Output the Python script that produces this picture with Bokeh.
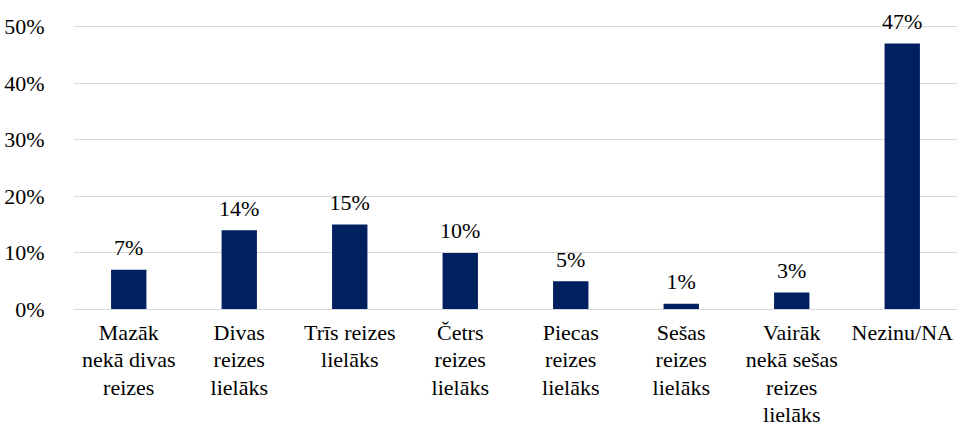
from bokeh.plotting import figure
from bokeh.models import ColumnDataSource, Range1d, FixedTicker, FactorRange
from bokeh.core.properties import value
from bokeh.embed import file_html
from bokeh.resources import INLINE

categories = [
    "Mazāk\nnekā divas\nreizes",
    "Divas\nreizes\nlielāks",
    "Trīs reizes\nlielāks",
    "Četrs\nreizes\nlielāks",
    "Piecas\nreizes\nlielāks",
    "Sešas\nreizes\nlielāks",
    "Vairāk\nnekā sešas\nreizes\nlielāks",
    "Nezinu/NA",
]
values = [7, 14, 15, 10, 5, 1, 3, 47]
labels = [f"{v}%" for v in values]
y_ticks = [0, 10, 20, 30, 40, 50]
y_tick_labels = {t: f"{t}%" for t in y_ticks}

FONT = "Liberation Serif, Times New Roman, DejaVu Serif, serif"
BAR = "#002060"
GRID = "#d9d9d9"

src = ColumnDataSource(dict(cat=categories, val=values, lab=labels))

p = figure(
    width=957, height=430,
    x_range=FactorRange(*categories, range_padding=0),
    y_range=Range1d(0, 53.17),
    output_backend="svg", toolbar_location=None,
    min_border_left=73, min_border_right=0, min_border_top=8, min_border_bottom=120,
)
p.outline_line_color = None
p.background_fill_color = "white"
p.border_fill_color = "white"

p.vbar(x="cat", top="val", width=0.32, source=src, fill_color=BAR, line_color=None)
p.text(x="cat", y="val", text="lab", source=src, text_align="center",
       text_baseline="alphabetic", y_offset=-22,
       text_font=value(FONT), text_font_size="22px", text_color="#000000")

p.yaxis.ticker = FixedTicker(ticks=y_ticks)
p.yaxis.major_label_overrides = y_tick_labels
p.yaxis.axis_line_color = None
p.yaxis.major_tick_line_color = None
p.yaxis.minor_tick_line_color = None
p.yaxis.major_label_standoff = 23
p.yaxis.major_label_text_font = FONT
p.yaxis.major_label_text_font_size = "22px"
p.yaxis.major_label_text_color = "#000000"

p.xaxis.axis_line_color = GRID
p.xaxis.major_tick_line_color = None
p.xaxis.minor_tick_line_color = None
p.xaxis.major_label_standoff = 4
p.xaxis.major_label_text_font = FONT
p.xaxis.major_label_text_font_size = "22px"
p.xaxis.major_label_text_color = "#000000"
p.xaxis.major_label_text_line_height = 1.1

p.xgrid.grid_line_color = None
p.ygrid.grid_line_color = GRID
p.ygrid.grid_line_width = 1

open("out.html", "w").write(file_html(p, INLINE))
